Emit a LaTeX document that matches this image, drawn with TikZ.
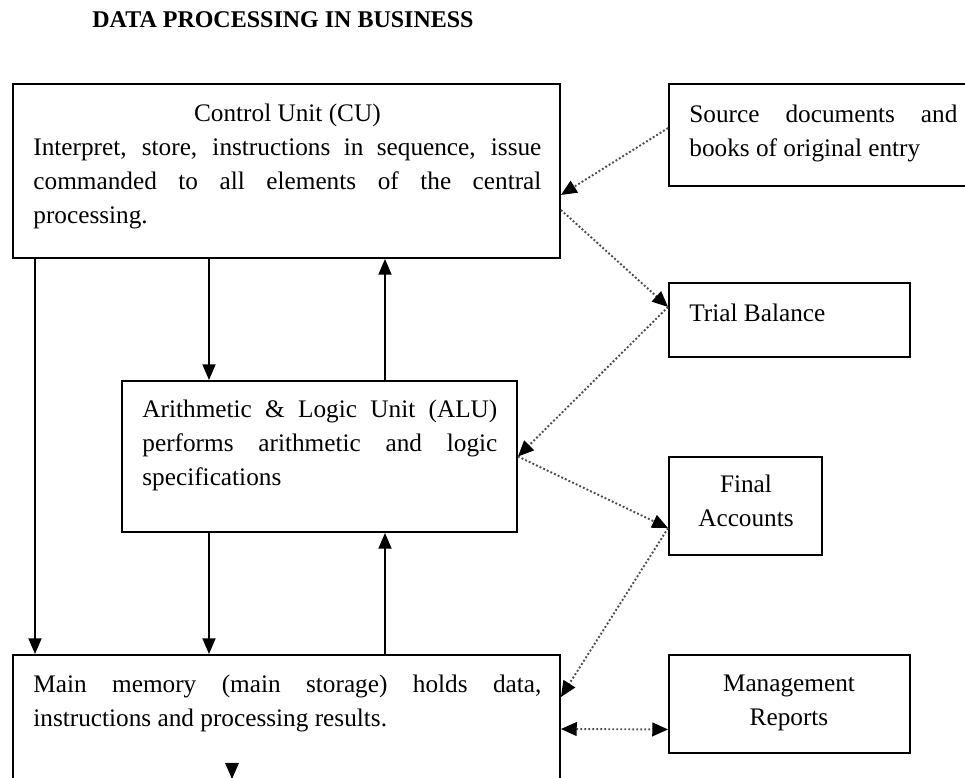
\documentclass[tikz,border=0pt]{standalone}
\usepackage{fontspec}
\setmainfont{Liberation Serif}
\usetikzlibrary{arrows.meta,fit}
\tikzset{
  box/.style={draw, line width=0.9pt, inner sep=0pt},
  txt/.style={inner sep=0pt, anchor=base west, align=justify,
    font=\fontsize{12}{16}\selectfont},
  link/.style={line width=0.85pt, -{Triangle[length=7.5pt,width=6.2pt]}},
  feed/.style={line width=0.9pt, densely dotted, black!70,
    -{Triangle[length=7.5pt,width=6.5pt,color=black]}},
  feedboth/.style={feed, {Triangle[length=7.5pt,width=6.5pt,color=black]}-{Triangle[length=7.5pt,width=6.5pt,color=black]}}
}

\begin{document}
\begin{tikzpicture}[x=0.475pt, y=-0.475pt]
	%%%%% frame %%%%%
	\clip (0,0) rectangle (965,778);

	\node[inner sep=0pt, anchor=base west, font=\bfseries\fontsize{11.4}{14}\selectfont] (title) at (92,28) {DATA PROCESSING IN BUSINESS};

	%%%%% boxes %%%%%
	\node[box, fit={(13,84) (560,258)}] (cu) {};
	\node[box, fit={(669,84) (985,186)}] (src) {};
	\node[box, fit={(669,283) (910,357)}] (tb) {};
	\node[box, fit={(122,381) (517,532)}] (alu) {};
	\node[box, fit={(669,457) (822,555)}] (fa) {};
	\node[box, fit={(13,655) (560,800)}] (mem) {};
	\node[box, fit={(669,655) (910,753)}] (mr) {};

	%%%%% texts %%%%%
	\node[txt, text width=241.3pt] (cutext) at (33,122) {{\centering Control Unit (CU)\par}\noindent Interpret, store, instructions in sequence, issue\linebreak commanded to all elements of the central\linebreak processing.};
	\node[txt, text width=127.3pt] (srctext) at (689,123) {\noindent Source documents and\linebreak books of original entry};
	\node[txt, align=left] (tbtext) at (689,322) {Trial Balance};
	\node[txt, text width=168.6pt] (alutext) at (142,418) {\noindent Arithmetic \& Logic Unit (ALU)\linebreak performs arithmetic and logic\linebreak specifications};
	\node[txt, anchor=base, align=center, text width=70pt] (fatext) at (746,493) {Final\\Accounts};
	\node[txt, text width=241.3pt] (memtext) at (33,693) {\noindent Main memory (main storage) holds data,\linebreak instructions and processing results.};
	\node[txt, anchor=base, align=center, text width=100pt] (mrtext) at (789,692) {Management\\Reports};

	%%%%% solid links %%%%%
	\coordinate (xa) at (35,0);
	\coordinate (xb) at (209,0);
	\coordinate (xc) at (385,0);
	\draw[link] (cu.south -| xa) -- (mem.north -| xa);
	\draw[link] (cu.south -| xb) -- (alu.north -| xb);
	\draw[link] (alu.north -| xc) -- (cu.south -| xc);
	\draw[link] (alu.south -| xb) -- (mem.north -| xb);
	\draw[link] (mem.north -| xc) -- (alu.south -| xc);
	\fill (225,763) -- (239,763) -- (232,779) -- cycle;

	%%%%% dotted links %%%%%
	\draw[feed] ([yshift=3.3pt]src.west) -- ([yshift=-11.4pt]cu.east);
	\draw[feed] ([yshift=-18.5pt]cu.east) -- ([yshift=6.2pt]tb.west);
	\draw[feed] ([yshift=6.2pt]tb.west) -- (alu.east);
	\draw[feed] (alu.east) -- ([yshift=-10.5pt]fa.west);
	\draw[feed] ([yshift=-10.5pt]fa.west) -- ([yshift=-20.4pt]mem.north east);
	\draw[feedboth] ([yshift=-35.6pt]mem.north east) -- ([yshift=-12.1pt]mr.west);
\end{tikzpicture}
\end{document}
